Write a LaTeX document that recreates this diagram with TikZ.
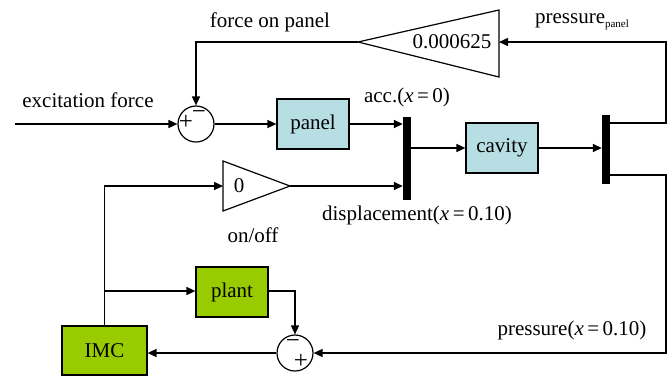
\documentclass[tikz,border=0pt]{standalone}
\usepackage{fontspec}
\setmainfont{Liberation Serif}
\usepackage{tikz}
\usetikzlibrary{arrows.meta}
\definecolor{boxblue}{RGB}{183,222,226}
\definecolor{boxgreen}{RGB}{153,204,0}

\begin{document}
\begin{tikzpicture}[x=1pt,y=-1pt,
  >={Triangle[length=9pt,width=8pt]},
  line/.style={line width=1.5pt},
  block/.style={draw,line width=1.2pt,minimum width=72pt,minimum height=50pt,inner sep=0pt},
  sumnode/.style={draw,circle,line width=1.2pt,minimum size=36pt,inner sep=0pt},
  bar/.style={fill=black,minimum width=8pt,inner sep=0pt},
  every node/.style={font=\fontsize{21}{24}\selectfont},
  sign/.style={font=\fontsize{25}{25}\selectfont,inner sep=0pt}
]
\useasboundingbox (0,0) rectangle (672,376);

\node[block,fill=boxblue] (panel) at (313,124) {panel};
\node[block,fill=boxblue] (cavity) at (502,148) {cavity};
\node[block,fill=boxgreen] (plant) at (232,292) {plant};
\node[block,fill=boxgreen,minimum width=85pt,minimum height=49pt] (imc) at (104.5,350.5) {IMC};

\node[sumnode] (sum1) at (196,124) {};
\node[sign] (s1p) at (186,122) {+};
\node[sign] (s1m) at (199,115) {−};
\node[sumnode] (sum2) at (295,353) {};
\node[sign] (s2m) at (293,344) {−};
\node[sign] (s2p) at (301,361) {+};

\node[bar,minimum height=83pt] (bar1) at (407,158.5) {};
\node[bar,minimum height=69pt] (bar2) at (606,149.5) {};

% gains
\coordinate (gaintip) at (358,42);
\coordinate (gainin) at (499,42);
\draw[line width=1.2pt] (gaintip) -- (499,10) -- (499,77) -- cycle;
\node (gainval) at (452,42) {0.000625};
\coordinate (swin) at (223,186);
\coordinate (swtip) at (290,186);
\draw[line width=1.2pt] (swtip) -- (223,161) -- (223,211) -- cycle;
\node (swval) at (239,186) {0};

% labels
\node (lforce) at (270,22) {force on panel};
\node (lpress) at (582,22) {pressure\raisebox{-4pt}{\fontsize{11}{11}\selectfont panel}};
\node (lexc) at (88,100) {excitation force};
\node (lacc) at (407,97) {acc.(\textit{x}\,=\,0)};
\node (ldisp) at (417,215) {displacement(\textit{x}\,=\,0.10)};
\node (lonoff) at (253,235) {on/off};
\node (lpx) at (572,330) {pressure(\textit{x}\,=\,0.10)};

\coordinate (exc) at (15,124);
\coordinate (ptop) at (666,42);
\coordinate (pbot) at (666,353);
\coordinate (branch) at (104.5,291);

\draw[->,line] (exc) -- (sum1);
\draw[->,line] (sum1) -- (panel);
\draw[->,line] (panel) -- (bar1.west |- panel);
\draw[->,line] (bar1.east |- cavity) -- (cavity);
\draw[->,line] (cavity) -- (bar2.west |- cavity);
\draw[->,line] ([yshift=-8pt]bar2.north east) -| (ptop) -- (gainin);
\draw[->,line] (gaintip) -| (sum1.north);
\draw[->,line] ([yshift=9pt]bar2.south east) -| (pbot) -- (sum2.east);
\draw[->,line] (sum2.west) -- (imc.east |- sum2.west);
\draw[->,line] (imc.north) |- (swin);
\draw[->,line] (branch) -- (plant.west |- branch);
\draw[->,line] (plant.east |- branch) -| (sum2.north);
\draw[->,line] (swtip) -- (bar1.west |- swtip);
\end{tikzpicture}
\end{document}
